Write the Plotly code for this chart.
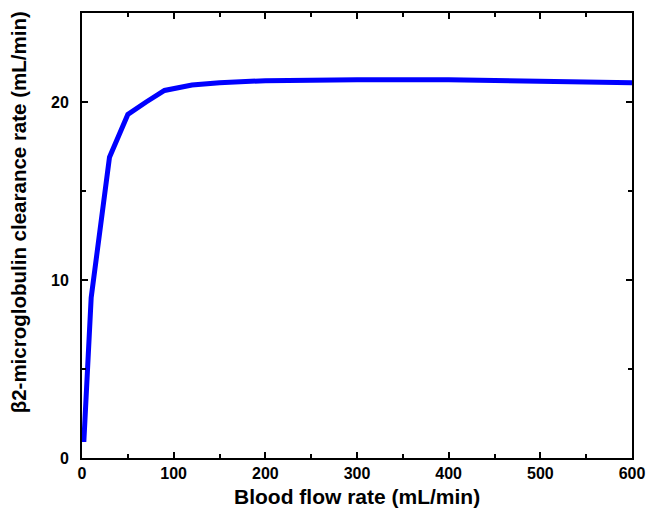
import plotly.graph_objects as go

flow_rate = [2, 10, 30, 50, 70, 90, 120, 150, 200, 250, 300, 400, 475, 550, 600]
clearance = [0.9, 9.0, 16.9, 19.3, 20.0, 20.65, 20.95, 21.08, 21.2, 21.24, 21.25, 21.25, 21.2, 21.12, 21.08]

x_ticks = [0, 100, 200, 300, 400, 500, 600]
y_ticks = [0, 10, 20]

FONT = "Liberation Sans, Arial, sans-serif"

fig = go.Figure()
fig.add_trace(go.Scatter(x=flow_rate, y=clearance, mode="lines",
                         line=dict(color="#0000FF", width=5), showlegend=False))

tickfont = dict(family=FONT, size=16, color="black")
axis_common = dict(showgrid=False, zeroline=False, showline=True, linecolor="black",
                   linewidth=2, mirror="ticks", ticks="inside", ticklen=6, tickwidth=2,
                   tickcolor="black", tickfont=tickfont, automargin=False)

fig.update_xaxes(range=[0, 600], tickvals=x_ticks, ticktext=[f"<b>{v}</b>" for v in x_ticks],
                 minor=dict(ticks="inside", dtick=50, ticklen=4, tickwidth=2, tickcolor="black"),
                 ticklabelstandoff=0,
                 **axis_common)
fig.update_yaxes(range=[0, 25], tickvals=y_ticks, ticktext=[f"<b>{v}</b>" for v in y_ticks],
                 minor=dict(ticks="inside", dtick=5, ticklen=4, tickwidth=2, tickcolor="black"),
                 ticklabelstandoff=8,
                 **axis_common)

fig.add_annotation(text="<b>β2-microglobulin clearance rate (mL/min)</b>", textangle=-90,
                   xref="paper", yref="paper", x=0, y=0.552, xshift=-64,
                   xanchor="center", yanchor="middle", showarrow=False,
                   font=dict(family=FONT, size=20.5, color="black"))
fig.add_annotation(text="<b>Blood flow rate (mL/min)</b>",
                   xref="paper", yref="paper", x=0.5, y=0, yshift=-38,
                   xanchor="center", yanchor="middle", showarrow=False,
                   font=dict(family=FONT, size=21, color="black"))

fig.update_layout(width=647, height=511, margin=dict(l=82, r=15, t=13, b=53),
                  plot_bgcolor="white", paper_bgcolor="white")

# remove the default page margin so the 647x511 figure fills the window exactly
fig.write_html("out.html", config={"displayModeBar": False},
               post_script="document.body.style.margin='0';document.body.style.overflow='hidden';")
